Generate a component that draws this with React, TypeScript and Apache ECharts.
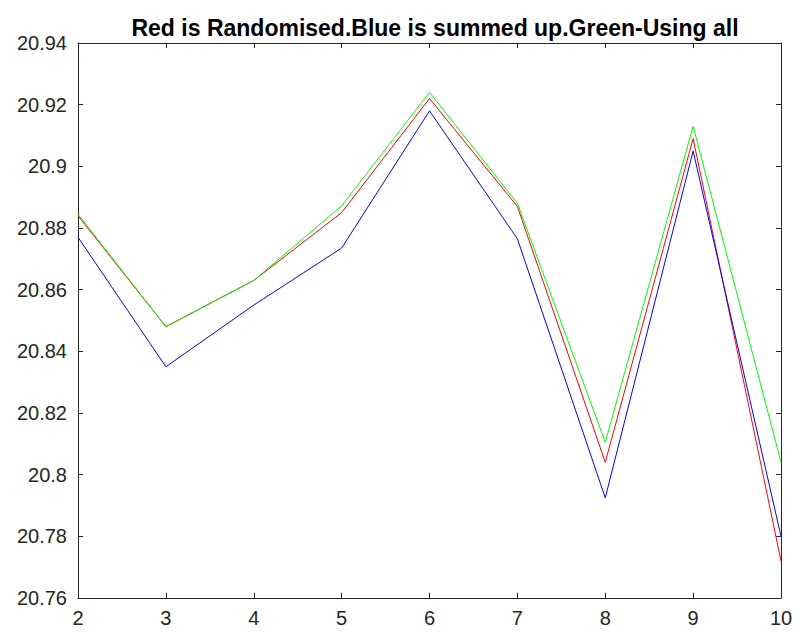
import React, { useEffect, useRef } from "react";
import * as echarts from "echarts";

const xValues = [2, 3, 4, 5, 6, 7, 8, 9, 10];
const redValues = [20.884, 20.848, 20.863, 20.885, 20.922, 20.887, 20.804, 20.909, 20.772];
const blueValues = [20.877, 20.835, 20.855, 20.8735, 20.918, 20.8765, 20.7925, 20.905, 20.78];
const greenValues = [20.8845, 20.848, 20.863, 20.8872, 20.924, 20.888, 20.8105, 20.913, 20.804];
const titleText = "Red is Randomised.Blue is summed up.Green-Using all";

const pair = (ys: number[]) => xValues.map((x, i) => [x, ys[i]]);

export default function App() {
  const ref = useRef<HTMLDivElement>(null);
  useEffect(() => {
    if (!ref.current) return;
    const chart = echarts.init(ref.current, null, { renderer: "svg" });
    const axisColor = "#262626";
    const font = "'Liberation Sans', Arial, Helvetica, sans-serif";
    const fmt = (v: number) => String(parseFloat(v.toFixed(2)));
    chart.setOption({
      animation: false,
      backgroundColor: "#ffffff",
      title: {
        text: titleText,
        left: 430,
        textAlign: "center",
        top: 11,
        textStyle: { fontFamily: font, fontSize: 23, fontWeight: "bold", color: "#000" },
      },
      grid: { left: 78, right: 16, top: 43, bottom: 35, containLabel: false },
      xAxis: [
        {
          type: "value",
          min: 2,
          max: 10,
          interval: 1,
          position: "bottom",
          axisLine: { show: true, lineStyle: { color: axisColor, width: 1 } },
          axisTick: { show: true, inside: true, length: 5, lineStyle: { color: axisColor } },
          axisLabel: { color: axisColor, fontFamily: font, fontSize: 20, margin: 10 },
          splitLine: { show: false },
        },
        {
          type: "value",
          min: 2,
          max: 10,
          interval: 1,
          position: "top",
          axisLine: { show: true, lineStyle: { color: axisColor, width: 1 } },
          axisTick: { show: true, inside: true, length: 5, lineStyle: { color: axisColor } },
          axisLabel: { show: false },
          splitLine: { show: false },
        },
      ],
      yAxis: [
        {
          type: "value",
          min: 20.76,
          max: 20.94,
          interval: 0.02,
          position: "left",
          axisLine: { show: true, lineStyle: { color: axisColor, width: 1 } },
          axisTick: { show: true, inside: true, length: 5, lineStyle: { color: axisColor } },
          axisLabel: { color: axisColor, fontFamily: font, fontSize: 20, margin: 11, formatter: fmt },
          splitLine: { show: false },
        },
        {
          type: "value",
          min: 20.76,
          max: 20.94,
          interval: 0.02,
          position: "right",
          axisLine: { show: true, lineStyle: { color: axisColor, width: 1 } },
          axisTick: { show: true, inside: true, length: 5, lineStyle: { color: axisColor } },
          axisLabel: { show: false },
          splitLine: { show: false },
        },
      ],
      series: [
        {
          type: "line",
          name: "Red",
          data: pair(redValues),
          showSymbol: false,
          lineStyle: { color: "#ff0000", width: 1 },
          itemStyle: { color: "#ff0000" },
        },
        {
          type: "line",
          name: "Blue",
          data: pair(blueValues),
          showSymbol: false,
          lineStyle: { color: "#0000ff", width: 1 },
          itemStyle: { color: "#0000ff" },
        },
        {
          type: "line",
          name: "Green",
          data: pair(greenValues),
          showSymbol: false,
          lineStyle: { color: "#00ff00", width: 1 },
          itemStyle: { color: "#00ff00" },
        },
      ],
    });
    return () => chart.dispose();
  }, []);
  return (
    <div
      ref={ref}
      style={{ position: "fixed", left: 0, top: 0, width: 797, height: 633, background: "#fff" }}
    />
  );
}
